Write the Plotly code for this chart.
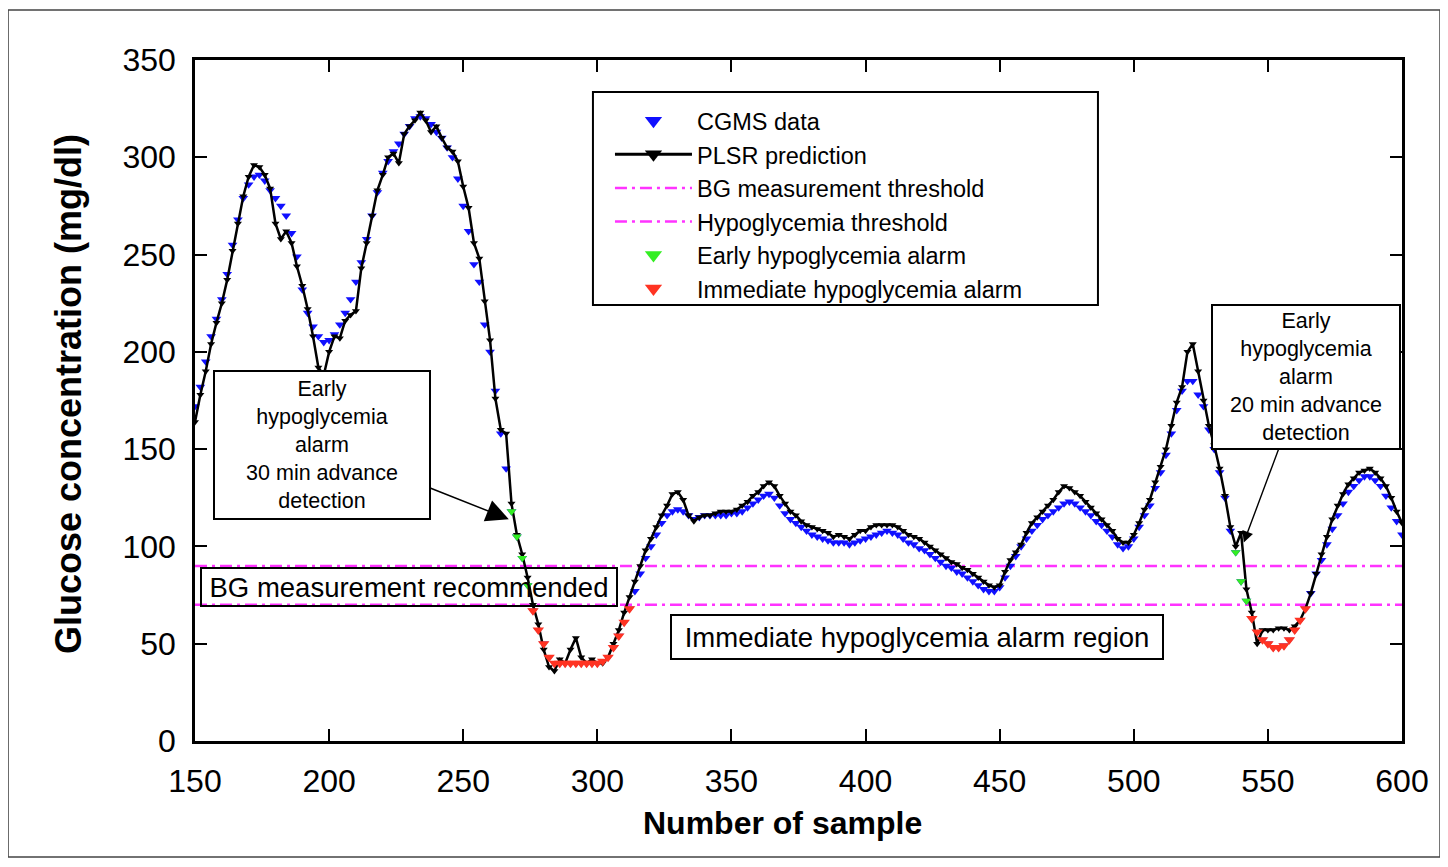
import plotly.graph_objects as go

# ---------------- data ----------------
samples = list(range(150, 601, 2))

cgms_data = [
    172, 182, 195, 208, 217, 227, 240, 255, 268, 279,
    286, 290, 291, 288, 283, 279, 275, 270, 261, 249,
    232, 220, 213, 208, 205, 206, 209, 214, 220, 227,
    236, 246, 258, 270, 282, 292, 298, 303, 307, 312,
    316, 320, 321, 320, 317, 313, 310, 305, 300, 289,
    275, 262, 245, 236, 214, 200, 180, 158, 140, 118,
    105, 94, 80, 67, 57, 50, 43, 40, 40, 40,
    40, 40, 40, 40, 40, 40, 41, 43, 48, 54,
    61, 68, 77, 86, 94, 100, 106, 112, 116, 118,
    119, 118, 116, 114, 115, 116, 116, 116, 116, 116,
    117, 117, 118, 120, 122, 124, 126, 127, 125, 121,
    117, 114, 112, 110, 108, 106, 105, 104, 103, 102,
    102, 102, 101, 102, 103, 104, 105, 106, 107, 108,
    107, 106, 104, 102, 101, 99, 98, 96, 94, 92,
    90, 89, 87, 86, 84, 82, 80, 78, 77, 77,
    79, 84, 90, 95, 100, 104, 108, 111, 114, 116,
    118, 120, 122, 123, 122, 120, 118, 116, 113, 111,
    108, 105, 101, 99, 100, 104, 110, 116, 121, 130,
    138, 147, 158, 170, 180, 185, 185, 178, 172, 160,
    150, 138, 125, 108, 97, 82, 72, 63, 56, 52,
    50, 48, 48, 49, 52, 57, 62, 68, 76, 86,
    93, 101, 109, 116, 122, 128, 131, 134, 136, 136,
    134, 131, 126, 120, 113, 106,
]

plsr_prediction = [
    164, 178, 190, 204, 215, 225, 237, 252, 266, 280,
    290, 296, 295, 291, 284, 266, 258, 262, 256, 244,
    234, 222, 208, 192, 188, 200, 208, 207, 216, 219,
    221, 243, 256, 270, 283, 291, 300, 302, 297, 312,
    316, 319, 323, 319, 313, 316, 310, 305, 303, 298,
    285, 274, 256, 248, 226, 206, 176, 160, 158, 122,
    106, 96, 84, 70, 60, 47, 38, 36, 42, 40,
    47, 53, 43, 40, 42, 40, 40, 43, 50, 57,
    66, 74, 82, 90, 98, 104, 110, 116, 121, 127,
    128, 124, 116, 113, 115, 116, 116, 117, 118, 118,
    118, 119, 121, 123, 126, 128, 131, 133, 131, 126,
    122, 118, 116, 113, 111, 110, 109, 108, 107, 105,
    106, 105, 104, 106, 108, 108, 110, 111, 111, 111,
    111, 110, 108, 106, 105, 104, 102, 100, 98, 96,
    94, 92, 91, 89, 88, 86, 84, 82, 80, 79,
    80, 87, 93, 97, 101, 107, 112, 115, 118, 121,
    124, 128, 131, 130, 128, 126, 123, 120, 117, 114,
    111, 108, 104, 102, 102, 106, 112, 119, 124, 133,
    141, 150, 162, 174, 182, 200, 204, 190, 175, 162,
    152, 140, 126, 110, 100, 107, 78, 66, 50, 57,
    57, 57, 58, 58, 57, 59, 62, 68, 76, 86,
    96, 105, 114, 121, 127, 132, 135, 138, 139, 140,
    138, 135, 131, 125, 118, 112,
]

bg_measurement_threshold = 90
hypoglycemia_threshold = 70
early_alarm_windows = [(268, 275), (538, 543)]

x_ticks = list(range(150, 601, 50))
y_ticks = list(range(0, 351, 50))

legend_names = ["CGMS data", "PLSR prediction", "BG measurement threshold",
                "Hypoglycemia threshold", "Early hypoglycemia alarm",
                "Immediate hypoglycemia alarm"]

# ---------------- derived subsets ----------------
early_x, early_y, imm_x, imm_y = [], [], [], []
for s, g in zip(samples, cgms_data):
    if g < hypoglycemia_threshold:
        imm_x.append(s); imm_y.append(g)
    elif any(a <= s <= b for a, b in early_alarm_windows):
        early_x.append(s); early_y.append(g)

BLUE = "#1010ff"
MAGENTA = "#ff33ff"
GREEN = "#33ee22"
RED = "#ff3322"
FONT = "Liberation Sans, Arial, Helvetica, sans-serif"
DASH = "12px,5px,3px,5px"

fig = go.Figure()

x_span = [samples[0], samples[-1]]
for thr in (bg_measurement_threshold, hypoglycemia_threshold):
    fig.add_trace(go.Scatter(x=x_span, y=[thr, thr], mode="lines",
                             line=dict(color=MAGENTA, width=2.5, dash=DASH),
                             showlegend=False, hoverinfo="skip"))

fig.add_trace(go.Scatter(x=samples, y=cgms_data, mode="markers",
                         marker=dict(symbol="triangle-down", size=8.5, color=BLUE),
                         showlegend=False))
fig.add_trace(go.Scatter(x=samples, y=plsr_prediction, mode="lines+markers",
                         line=dict(color="black", width=2.5),
                         marker=dict(symbol="triangle-down", size=7, color="black"),
                         showlegend=False))
fig.add_trace(go.Scatter(x=early_x, y=early_y, mode="markers",
                         marker=dict(symbol="triangle-down", size=8.5, color=GREEN),
                         showlegend=False))
fig.add_trace(go.Scatter(x=imm_x, y=imm_y, mode="markers",
                         marker=dict(symbol="triangle-down", size=10, color=RED),
                         showlegend=False))

# legend-only entries
leg_styles = [
    dict(mode="markers", marker=dict(symbol="triangle-down", size=15, color=BLUE)),
    dict(mode="lines+markers", line=dict(color="black", width=3),
         marker=dict(symbol="triangle-down", size=15, color="black")),
    dict(mode="lines", line=dict(color=MAGENTA, width=2.5, dash=DASH)),
    dict(mode="lines", line=dict(color=MAGENTA, width=2.5, dash=DASH)),
    dict(mode="markers", marker=dict(symbol="triangle-down", size=15, color=GREEN)),
    dict(mode="markers", marker=dict(symbol="triangle-down", size=15, color=RED)),
]
for name, st in zip(legend_names, leg_styles):
    fig.add_trace(go.Scatter(x=[None], y=[None], name=name, showlegend=True, **st))

axis_common = dict(showline=True, linecolor="black", linewidth=2.5, mirror="ticks",
                   ticks="inside", ticklen=12, tickwidth=2, tickcolor="black",
                   showgrid=False, zeroline=False,
                   tickfont=dict(size=32, color="black", family=FONT))

fig.update_xaxes(range=[150, 600], tickvals=x_ticks, ticklabelstandoff=10, **axis_common)
fig.update_yaxes(range=[0, 350], tickvals=y_ticks, ticklabelstandoff=10, **axis_common)

box = dict(bordercolor="black", borderwidth=2, bgcolor="rgba(0,0,0,0)")
annos = [
    dict(x=229.6, y=79.4, xref="x", yref="y", text="BG measurement recommended",
         showarrow=False, width=408, height=30, borderpad=3,
         font=dict(size=27.5, color="black", family=FONT), **box),
    dict(x=419, y=53.2, xref="x", yref="y", text="Immediate hypoglycemia alarm region",
         showarrow=False, width=484, height=36, borderpad=3,
         font=dict(size=27.5, color="black", family=FONT), **box),
    dict(x=267, y=114, xref="x", yref="y", axref="x", ayref="y", ax=197.4, ay=152.1,
         text="Early<br>hypoglycemia<br>alarm<br>30 min advance<br>detection",
         showarrow=True, arrowhead=2, arrowsize=3, arrowwidth=1.5, arrowcolor="black",
         width=208, height=140, borderpad=3, bordercolor="black", borderwidth=2,
         bgcolor="white", font=dict(size=21.5, color="black", family=FONT)),
    dict(x=541, y=102, xref="x", yref="y", axref="x", ayref="y", ax=564.1, ay=187.3,
         text="Early<br>hypoglycemia<br>alarm<br>20 min advance<br>detection",
         showarrow=True, arrowhead=2, arrowsize=1.6, arrowwidth=1.4, arrowcolor="black",
         width=182, height=138, borderpad=2, bordercolor="black", borderwidth=2,
         bgcolor="white", font=dict(size=21.5, color="black", family=FONT)),
    dict(x=0.487, y=-0.1204, xref="paper", yref="paper", text="<b>Number of sample</b>",
         xanchor="center", yanchor="middle",
         showarrow=False, font=dict(size=32, color="black", family=FONT)),
    dict(x=-0.1052, y=0.5095, xref="paper", yref="paper",
         text="<b>Glucose concentration (mg/dl)</b>", textangle=-90,
         xanchor="center", yanchor="middle",
         showarrow=False, font=dict(size=36, color="black", family=FONT)),
]

shapes = [
    # outer figure frame
    dict(type="rect", xref="paper", yref="paper",
         x0=-0.1549, x1=1.0315, y0=-0.1703, y1=1.0734,
         line=dict(color="#444444", width=1.5), fillcolor="rgba(0,0,0,0)",
         layer="below"),
    # legend frame
    dict(type="rect", xref="paper", yref="paper",
         x0=0.3297, x1=0.7481, y0=0.6402, y1=0.953,
         line=dict(color="black", width=2), fillcolor="white", layer="above"),
]

# page body has an 8px margin: the figure is sized/offset to compensate
fig.update_layout(
    width=1440, height=859,
    margin=dict(l=187, r=46, t=52, b=126),
    paper_bgcolor="white", plot_bgcolor="white",
    font=dict(family=FONT, color="black"),
    annotations=annos,
    legend=dict(x=0.3438, y=0.9427, xanchor="left", yanchor="top",
                bgcolor="rgba(0,0,0,0)", borderwidth=0,
                font=dict(size=23.5, color="black", family=FONT),
                itemwidth=77, tracegroupgap=0),
    shapes=shapes,
    showlegend=True,
)

fig.write_html("out.html")
